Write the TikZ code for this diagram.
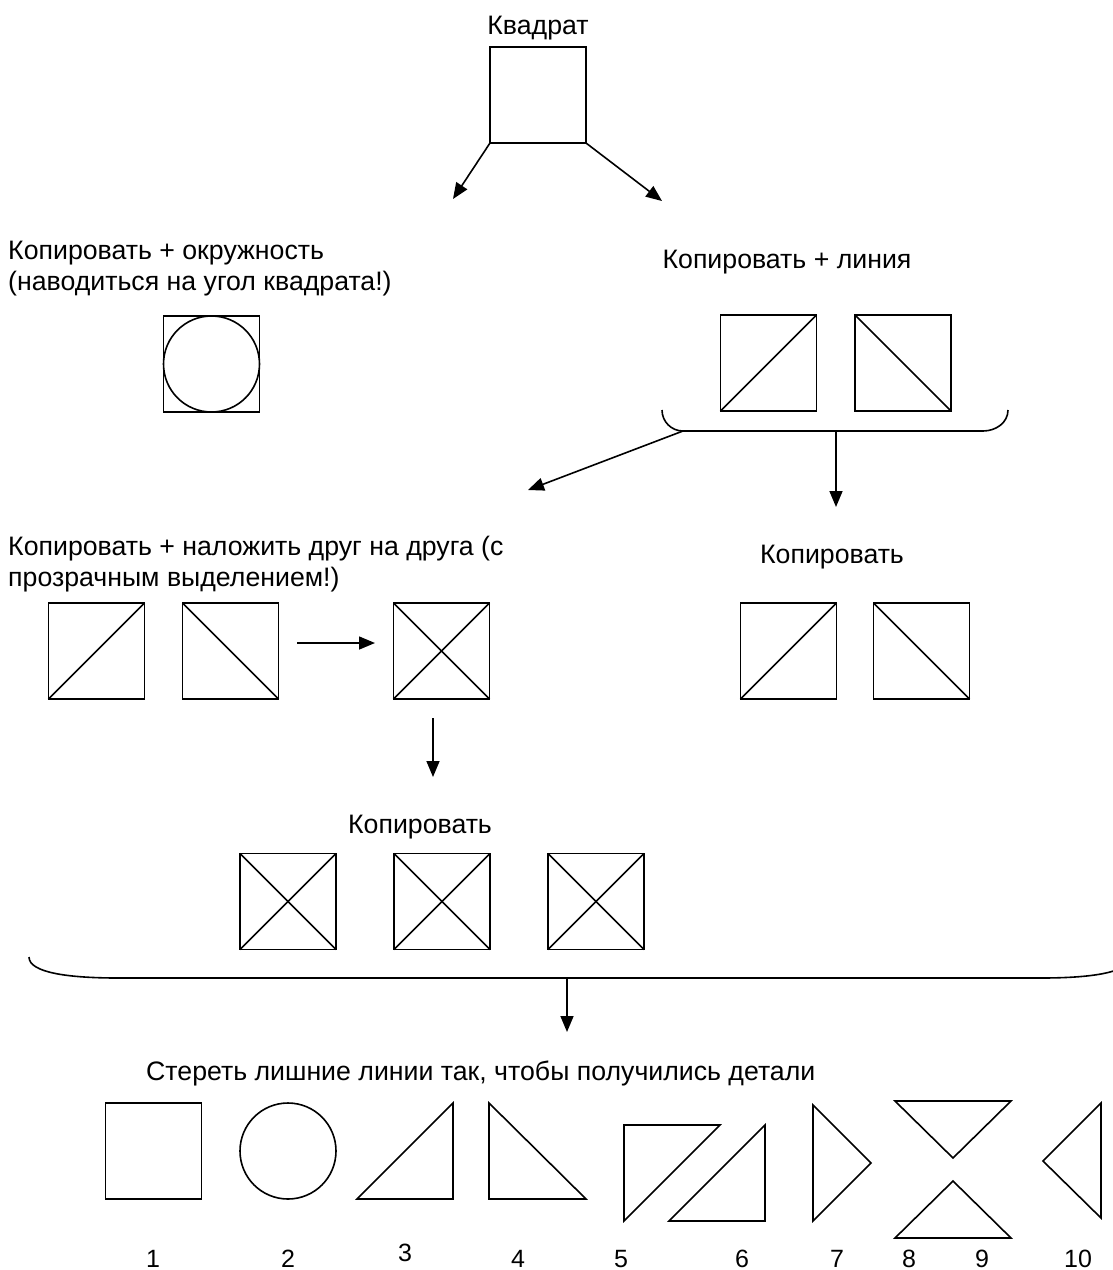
\documentclass[tikz,border=0pt]{standalone}
\usepackage{fontspec}
\setmainfont{Liberation Sans}
\usetikzlibrary{arrows.meta, positioning, calc}
\tikzstyle{sq} = [rectangle, draw=black, line width=1.6pt, minimum size=96pt, inner sep=0pt, outer sep=0pt]
\tikzstyle{circ} = [circle, draw=black, line width=1.6pt, minimum size=96pt, inner sep=0pt, outer sep=0pt]
\tikzstyle{lbl} = [font=\fontsize{26.7}{30}\selectfont, inner sep=0pt]
\tikzstyle{num} = [font=\fontsize{25}{28}\selectfont, inner sep=0pt, anchor=base]
\tikzstyle{arrow} = [line width=1.6pt, -{Triangle[length=16pt, width=13pt]}]
\tikzstyle{line} = [line width=1.6pt, line join=miter]

\begin{document}
\begin{tikzpicture}[x=1pt, y=-1pt]
    \useasboundingbox (0,0) rectangle (1112,1270);

    % start square
    \node (sqTop) [sq] at (538,95) {};
    \node (tTop) [lbl, anchor=base] at (538,34) {Квадрат};
    \coordinate (aL) at (453,199);
    \coordinate (aR) at (662,201);
    \draw [arrow] (sqTop.south west) -- (aL);
    \draw [arrow] (sqTop.south east) -- (aR);

    % copy + circle
    \node (tCirc1) [lbl, anchor=base west] at (8,259) {Копировать + окружность};
    \node (tCirc2) [lbl, anchor=base west] at (8,290) {(наводиться на угол квадрата!)};
    \node (sqCirc) [sq] at (211.5,364) {};
    \node (circ) [circ] at (sqCirc) {};

    % copy + line
    \node (tLine) [lbl, anchor=base] at (787,268) {Копировать + линия};
    \node (sqA) [sq] at (768.5,363) {};
    \node (sqB) [sq] at (903,363) {};
    \draw [line] (sqA.south west) -- (sqA.north east);
    \draw [line] (sqB.north west) -- (sqB.south east);
    \coordinate (b1L) at (683,431);
    \coordinate (b1M) at (836,431);
    \draw [line] (662,410) to[out=-90, in=180] (b1L) -- (983,431) to[out=0, in=-90] (1008,410);
    \coordinate (b1Down) at (836,507);
    \coordinate (b1Left) at (528,490);
    \draw [arrow] (b1M) -- (b1Down);
    \draw [arrow] (b1L) -- (b1Left);

    % overlay
    \node (tOver1) [lbl, anchor=base west] at (8,555) {Копировать + наложить друг на друга (с};
    \node (tOver2) [lbl, anchor=base west] at (8,586) {прозрачным выделением!)};
    \node (sqC) [sq] at (96.5,651) {};
    \node (sqD) [sq] at (230.5,651) {};
    \node (sqX) [sq] at (441.5,651) {};
    \draw [line] (sqC.south west) -- (sqC.north east);
    \draw [line] (sqD.north west) -- (sqD.south east);
    \draw [line] (sqX.south west) -- (sqX.north east);
    \draw [line] (sqX.north west) -- (sqX.south east);
    \coordinate (mS) at (297,643);
    \coordinate (mE) at (375,643);
    \draw [arrow] (mS) -- (mE);
    \coordinate (xS) at (433,718);
    \coordinate (xE) at (433,777);
    \draw [arrow] (xS) -- (xE);

    % copy (right)
    \node (tCopyR) [lbl, anchor=base] at (832,563) {Копировать};
    \node (sqE) [sq] at (788.5,651) {};
    \node (sqF) [sq] at (921.5,651) {};
    \draw [line] (sqE.south west) -- (sqE.north east);
    \draw [line] (sqF.north west) -- (sqF.south east);

    % copy crossed squares
    \node (tCopyX) [lbl, anchor=base] at (420,833) {Копировать};
    \node (sqX1) [sq] at (288,901.5) {};
    \node (sqX2) [sq] at (442,901.5) {};
    \node (sqX3) [sq] at (596,901.5) {};
    \draw [line] (sqX1.south west) -- (sqX1.north east);
    \draw [line] (sqX1.north west) -- (sqX1.south east);
    \draw [line] (sqX2.south west) -- (sqX2.north east);
    \draw [line] (sqX2.north west) -- (sqX2.south east);
    \draw [line] (sqX3.south west) -- (sqX3.north east);
    \draw [line] (sqX3.north west) -- (sqX3.south east);
    \coordinate (b2M) at (567,978);
    \draw [line] (29,957) .. controls (29,973) and (70,978) .. (118,978) -- (b2M) -- (1041,978) .. controls (1089,978) and (1130,973) .. (1130,957);
    \coordinate (b2Down) at (567,1032);
    \draw [arrow] (b2M) -- (b2Down);

    % parts
    \node (tErase) [lbl, anchor=base west] at (146,1080) {Стереть лишние линии так, чтобы получились детали};
    \node (p1) [sq] at (153.5,1151) {};
    \node (p2) [circ] at (288,1151) {};
    \draw [line] (357,1199) -- (453,1199) -- (453,1103) -- cycle;
    \draw [line] (489,1103) -- (489,1199) -- (586,1199) -- cycle;
    \draw [line] (624,1125) -- (720,1125) -- (624,1221) -- cycle;
    \draw [line] (669,1221) -- (765,1221) -- (765,1125) -- cycle;
    \draw [line] (813,1105) -- (813,1221) -- (871,1163) -- cycle;
    \draw [line] (895,1101) -- (1011,1101) -- (953,1158) -- cycle;
    \draw [line] (953,1181) -- (895,1238) -- (1011,1238) -- cycle;
    \draw [line] (1101,1103) -- (1101,1218) -- (1043,1161) -- cycle;

    \node (n1) [num] at (153,1267) {1};
    \node (n2) [num] at (288,1267) {2};
    \node (n3) [num] at (405,1261) {3};
    \node (n4) [num] at (518,1267) {4};
    \node (n5) [num] at (621,1267) {5};
    \node (n6) [num] at (742,1267) {6};
    \node (n7) [num] at (837,1267) {7};
    \node (n8) [num] at (909,1267) {8};
    \node (n9) [num] at (982,1267) {9};
    \node (n10) [num] at (1078,1267) {10};
\end{tikzpicture}
\end{document}
